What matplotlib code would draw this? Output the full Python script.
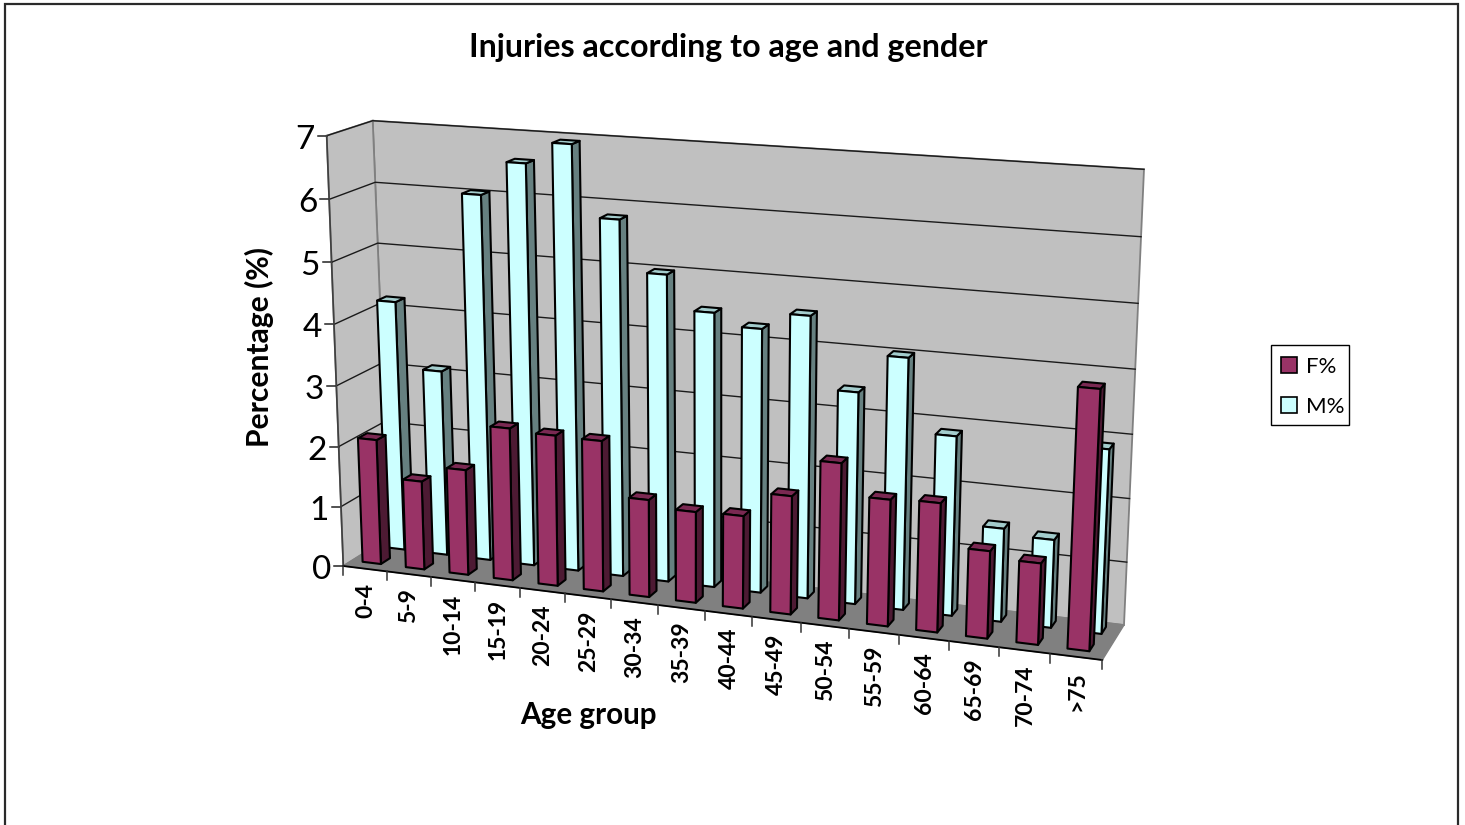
import numpy as np
import matplotlib
matplotlib.use("Agg")
import matplotlib.pyplot as plt
from matplotlib.patches import Polygon, Patch, Rectangle

age_groups = ["0-4", "5-9", "10-14", "15-19", "20-24", "25-29", "30-34", "35-39",
              "40-44", "45-49", "50-54", "55-59", "60-64", "65-69", "70-74", ">75"]
female_pct = [2.08, 1.47, 1.74, 2.50, 2.46, 2.45, 1.58, 1.47,
              1.49, 1.89, 2.49, 2.00, 2.03, 1.37, 1.27, 4.00]
male_pct = [4.17, 3.09, 6.02, 6.57, 6.92, 5.79, 4.98, 4.44,
            4.25, 4.52, 3.39, 4.00, 2.85, 1.48, 1.39, 2.88]
y_ticks = list(range(8))

FONT = "Lato"
VALUE_MAX = 7.0

# Box corners in figure pixels: (category end, depth end, height end)
CORNERS = {
    (0, 0, 0): (343.3, 566.0), (1, 0, 0): (1102.3, 660.0),
    (0, 1, 0): (389.5, 537.0), (1, 1, 0): (1124.0, 625.0),
    (0, 0, 1): (326.7, 135.7), (1, 0, 1): (1123.0, 189.0),
    (0, 1, 1): (372.7, 120.7), (1, 1, 1): (1144.0, 169.3),
}
CATEGORY_WARP = 0.909
HEIGHT_WARP = 0.96


def warp(t, w):
    return t * w / (1 - t + t * w)


def project(cat, depth, value):
    """Map category position, depth (0 front, 1 back) and value to pixels."""
    u = warp(cat / len(age_groups), CATEGORY_WARP)
    h = warp(value / VALUE_MAX, HEIGHT_WARP)
    p = np.zeros(2)
    for (a, b, c), xy in CORNERS.items():
        weight = (u if a else 1 - u) * (depth if b else 1 - depth) * (h if c else 1 - h)
        p += weight * np.array(xy)
    return tuple(p)


fig = plt.figure(figsize=(14.65, 8.25), dpi=100, facecolor="white")
ax = fig.add_axes([0, 0, 1, 1])
ax.set_xlim(0, 1465)
ax.set_ylim(825, 0)
ax.axis("off")

n = len(age_groups)
EDGE = "#808080"

# Walls and floor
ax.add_patch(Polygon([project(0, 1, 0), project(n, 1, 0), project(n, 1, VALUE_MAX), project(0, 1, VALUE_MAX)],
                     fc="#C0C0C0", ec=EDGE, lw=1.3, zorder=1))
ax.add_patch(Polygon([project(0, 0, 0), project(0, 1, 0), project(0, 1, VALUE_MAX), project(0, 0, VALUE_MAX)],
                     fc="#C0C0C0", ec=EDGE, lw=1.3, zorder=1))
ax.add_patch(Polygon([project(0, 0, 0), project(n, 0, 0), project(n, 1, 0), project(0, 1, 0)],
                     fc="#808080", ec="#808080", lw=1, zorder=1))

# Gridlines and value axis
for v in y_ticks:
    xs, ys = zip(project(0, 0, v), project(0, 1, v), project(n, 1, v))
    if v > 0:
        ax.plot(xs, ys, color="#1a1a1a", lw=1.0, zorder=2, solid_joinstyle="miter")
    x0, y0 = project(0, 0, v)
    ax.plot([x0 - 9, x0], [y0, y0], color="#222222", lw=1.1, zorder=2)
    ax.text(x0 - 12, y0 + 4, str(v), ha="right", va="center", fontsize=24, family=FONT, color="black")

xs, ys = zip(project(0, 0, 0), project(0, 0, VALUE_MAX))
ax.plot(xs, ys, color="#404040", lw=1.2, zorder=2)
xs, ys = zip(project(0, 0, 0), project(n, 0, 0))
ax.plot(xs, ys, color="black", lw=1.3, zorder=2)
for i in range(n + 1):
    x0, y0 = project(i, 0, 0)
    ax.plot([x0, x0], [y0, y0 + 9], color="#333333", lw=1.1, zorder=2)

# Category labels
for i, label in enumerate(age_groups):
    x0, y0 = project(i + 0.5, 0, 0)
    ax.text(x0 + 0.5, y0 + 14, label, rotation=90, ha="center", va="top",
            fontsize=16.5, fontweight="bold", family=FONT, color="black")


def draw_bar(i, value, u0, u1, v0, v1, face, side, top, z):
    f = [project(i + u0, v0, 0), project(i + u1, v0, 0), project(i + u1, v0, value), project(i + u0, v0, value)]
    s = [project(i + u1, v0, 0), project(i + u1, v1, 0), project(i + u1, v1, value), project(i + u1, v0, value)]
    t = [project(i + u0, v0, value), project(i + u1, v0, value), project(i + u1, v1, value), project(i + u0, v1, value)]
    for pts, color in ((s, side), (t, top), (f, face)):
        ax.add_patch(Polygon(pts, fc=color, ec="black", lw=1.5, zorder=z, joinstyle="round"))


# Back row first, then the front row over it
for i, value in enumerate(male_pct):
    draw_bar(i, value, 0.27, 0.69, 0.69, 0.89, "#CCFFFF", "#668080", "#A3CCCC", 3 + i * 0.01)
for i, value in enumerate(female_pct):
    draw_bar(i, value, 0.245, 0.67, 0.19, 0.39, "#993366", "#4D1A33", "#7A2952", 4 + i * 0.01)

# Titles
ax.text(728, 47, "Injuries according to age and gender", ha="center", va="center",
        fontsize=23.2, fontweight="bold", family=FONT)
ax.text(588, 715, "Age group", ha="center", va="center", fontsize=21.3, fontweight="bold", family=FONT)
ax.text(259, 347, "Percentage (%)", ha="center", va="center", rotation=90,
        fontsize=21.6, fontweight="bold", family=FONT)

# Legend box with its entries placed inside
ax.add_patch(Rectangle((1271, 345), 78, 80, fc="white", ec="black", lw=1.0, zorder=5))
handles = [Patch(fc="#993366", ec="black", lw=1.2, label="F%"),
           Patch(fc="#CCFFFF", ec="black", lw=1.2, label="M%")]
leg = ax.legend(handles=handles, loc="upper left", bbox_to_anchor=(1281 / 1465, 1 - 357 / 825),
                bbox_transform=fig.transFigure, borderaxespad=0, frameon=False,
                handlelength=0.72, handleheight=0.72, handletextpad=0.4,
                labelspacing=0.88, borderpad=0, prop={"family": FONT, "size": 16})
leg.set_zorder(6)

# Chart area border, open at the bottom edge of the canvas
ax.plot([5, 5, 1458, 1458], [825, 3.5, 3.5, 825], color="#2a2a2a", lw=1.6, zorder=10, solid_joinstyle="miter")

fig.savefig("out.png", dpi=100)
